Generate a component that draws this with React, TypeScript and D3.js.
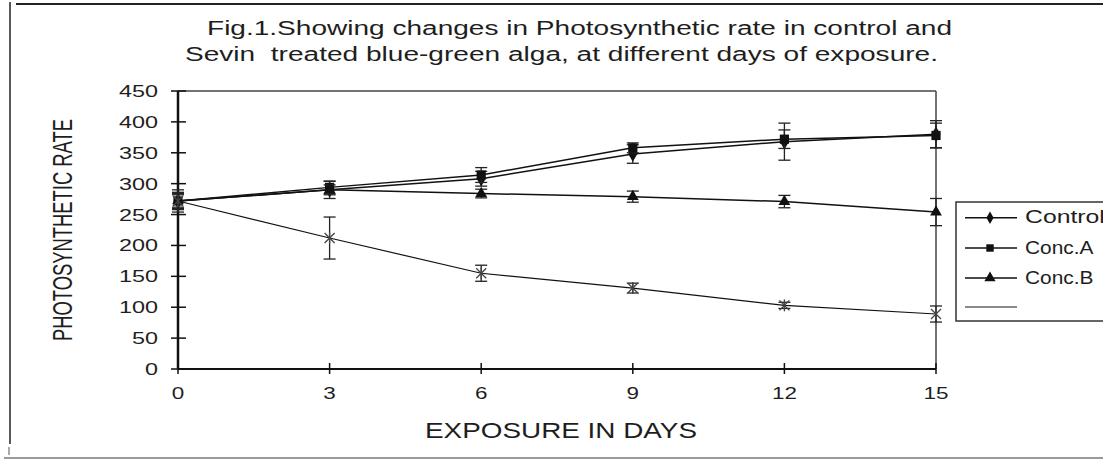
import { useMemo } from "react";
import * as d3 from "d3";

// chart data
const days = [0, 3, 6, 9, 12, 15];
const seriesNames = ["Control", "Conc.A", "Conc.B", ""];
const controlRate = [272, 290, 308, 348, 368, 380];
const concARate = [272, 294, 314, 358, 372, 378];
const concBRate = [272, 290, 284, 279, 271, 254];
const fourthRate = [272, 212, 155, 131, 103, 89];
const controlErr = [18, 14, 12, 15, 30, 22];
const concAErr = [14, 10, 12, 8, 15, 20];
const concBErr = [10, 8, 7, 9, 10, 22];
const fourthErr = [12, 34, 13, 8, 5, 13];
const yTicks = [0, 50, 100, 150, 200, 250, 300, 350, 400, 450];

const W = 1103;
const H = 461;
const FONT = "'Liberation Sans', Arial, sans-serif";
const INK = "#1e1e1e";

export default function App() {
  const x = d3.scaleLinear([0, 15], [178, 936]);
  const y = d3.scaleLinear([0, 450], [369, 91]);

  const series = useMemo(
    () => [
      { name: seriesNames[0], vals: controlRate, err: controlErr, marker: "diamond" },
      { name: seriesNames[1], vals: concARate, err: concAErr, marker: "square" },
      { name: seriesNames[2], vals: concBRate, err: concBErr, marker: "triangle" },
      { name: seriesNames[3], vals: fourthRate, err: fourthErr, marker: "star" },
    ],
    []
  );

  const line = d3
    .line<number>()
    .x((_, i) => x(days[i]))
    .y((d) => y(d));

  const symType = (m: string) =>
    m === "diamond" ? d3.symbolDiamond : m === "square" ? d3.symbolSquare : d3.symbolTriangle;

  const symSize = (m: string) => (m === "diamond" ? 70 : m === "square" ? 85 : 60);

  const marker = (m: string, cx: number, cy: number, key: string) => {
    if (m === "star") {
      return (
        <g key={key} transform={`translate(${cx},${cy})`} stroke="#444" strokeWidth={1.3}>
          <line x1={-5} y1={-5} x2={5} y2={5} />
          <line x1={-5} y1={5} x2={5} y2={-5} />
          <line x1={0} y1={-6} x2={0} y2={6} />
        </g>
      );
    }
    return (
      <path
        key={key}
        d={d3.symbol(symType(m), symSize(m))()!}
        transform={`translate(${cx},${cy})`}
        fill="#111"
      />
    );
  };

  const legendRows = [217.7, 248, 278, 307];

  return (
    <svg
      width={W}
      height={H}
      style={{ position: "absolute", left: 0, top: 0, background: "#fff" }}
      fontFamily={FONT}
    >
      {/* outer frame */}
      <line x1={16} y1={4} x2={W} y2={4} stroke="#222" strokeWidth={2} />
      <line x1={10} y1={2} x2={10} y2={444} stroke="#222" strokeWidth={1.5} />
      <line x1={9} y1={447} x2={9} y2={455} stroke="#555" strokeWidth={1} />
      <line x1={4} y1={458} x2={W} y2={458} stroke="#9a9a9a" strokeWidth={2} />

      {/* title */}
      <text x={207} y={35} fontSize={19.5} fill={INK} textLength={745} lengthAdjust="spacingAndGlyphs">
        Fig.1.Showing changes in Photosynthetic rate in control and
      </text>
      <text
        x={185}
        y={61}
        fontSize={19.5}
        fill={INK}
        textLength={753}
        lengthAdjust="spacingAndGlyphs"
        style={{ whiteSpace: "pre" }}
      >
        {"Sevin  treated blue-green alga, at different days of exposure."}
      </text>

      {/* plot frame */}
      <line x1={x(0)} y1={y(450)} x2={x(15)} y2={y(450)} stroke="#444" strokeWidth={1.5} />
      <line x1={x(15)} y1={y(450)} x2={x(15)} y2={y(0)} stroke="#444" strokeWidth={1.5} />

      {/* y axis */}
      <line x1={x(0)} y1={y(450)} x2={x(0)} y2={y(0)} stroke="#111" strokeWidth={2.5} />
      {yTicks.map((t) => (
        <g key={t}>
          <line x1={171} x2={186} y1={y(t)} y2={y(t)} stroke="#111" strokeWidth={1.5} />
          <text
            x={158}
            y={y(t) + 6}
            fontSize={16.5}
            fill={INK}
            textAnchor="end"
            textLength={13 * String(t).length}
            lengthAdjust="spacingAndGlyphs"
          >
            {t}
          </text>
        </g>
      ))}
      <text
        transform={`translate(72,${(y(0) + y(450)) / 2}) rotate(-90) scale(1,1.7)`}
        fontSize={16}
        fill={INK}
        textAnchor="middle"
        textLength={222}
        lengthAdjust="spacingAndGlyphs"
      >
        PHOTOSYNTHETIC RATE
      </text>

      {/* x axis */}
      <line x1={x(0)} y1={y(0)} x2={x(15)} y2={y(0)} stroke="#111" strokeWidth={2} />
      {days.map((d) => (
        <g key={d}>
          <line x1={x(d)} x2={x(d)} y1={363} y2={374} stroke="#111" strokeWidth={1.5} />
          <text
            x={x(d)}
            y={399}
            fontSize={16.5}
            fill={INK}
            textAnchor="middle"
            textLength={12.5 * String(d).length}
            lengthAdjust="spacingAndGlyphs"
          >
            {d}
          </text>
        </g>
      ))}
      <text x={425} y={438} fontSize={21.5} fill={INK} textLength={272} lengthAdjust="spacingAndGlyphs">
        EXPOSURE IN DAYS
      </text>

      {/* series, drawn in order so later ones sit on top */}
      {series.map((s) => (
        <g key={s.marker}>
          <path d={line(s.vals)!} fill="none" stroke="#111" strokeWidth={s.marker === "star" ? 1.2 : 1.5} />
          {s.vals.map((v, i) => (
            <g key={i} stroke="#222" strokeWidth={1.3}>
              <line x1={x(days[i])} x2={x(days[i])} y1={y(v - s.err[i])} y2={y(v + s.err[i])} />
              <line x1={x(days[i]) - 6} x2={x(days[i]) + 6} y1={y(v - s.err[i])} y2={y(v - s.err[i])} />
              <line x1={x(days[i]) - 6} x2={x(days[i]) + 6} y1={y(v + s.err[i])} y2={y(v + s.err[i])} />
            </g>
          ))}
          {s.vals.map((v, i) => marker(s.marker, x(days[i]), y(v), `${s.marker}-${i}`))}
        </g>
      ))}

      {/* legend */}
      <rect x={956} y={202} width={170} height={119} fill="#fff" stroke="#333" strokeWidth={1.5} />
      {series.map((s, i) => (
        <g key={s.marker}>
          <line
            x1={965}
            x2={1017}
            y1={legendRows[i]}
            y2={legendRows[i]}
            stroke={s.marker === "star" ? "#8a8a8a" : "#111"}
            strokeWidth={s.marker === "star" ? 2 : 1.5}
          />
          {s.marker !== "star" && (
            <path
              d={d3.symbol(symType(s.marker), s.marker === "diamond" ? 45 : 55)()!}
              transform={`translate(990,${legendRows[i]})`}
              fill="#111"
            />
          )}
          {s.name && (
            <text
              x={1025}
              y={legendRows[i] + 5.5}
              fontSize={18}
              fill={INK}
              textLength={s.name.length * 11.4}
              lengthAdjust="spacingAndGlyphs"
            >
              {s.name}
            </text>
          )}
        </g>
      ))}
    </svg>
  );
}
